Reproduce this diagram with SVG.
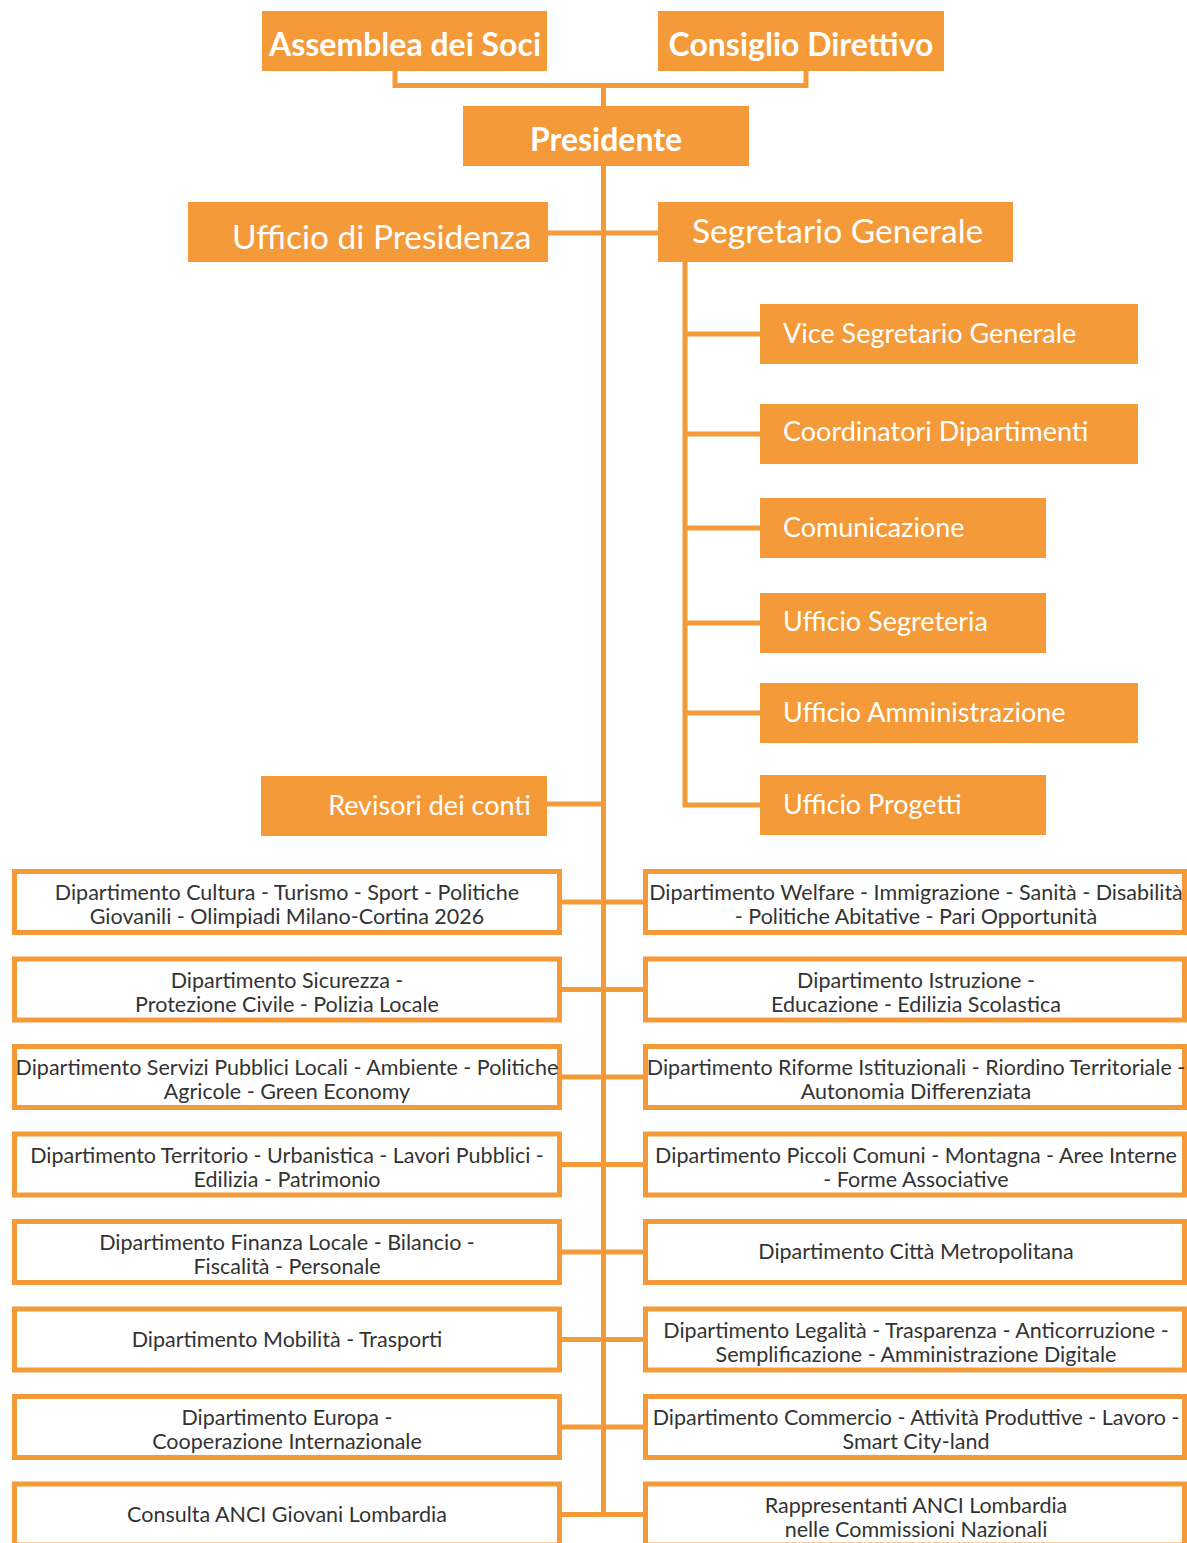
<svg xmlns="http://www.w3.org/2000/svg" width="1187" height="1543" viewBox="0 0 1187 1543">
<style>
.fill{fill:#F59A38}
.box{fill:#ffffff;stroke:#F59A38;stroke-width:5}
.ln{stroke:#F59A38;stroke-width:5;fill:none}
.tb{font-family:Lato,"Noto Sans",sans-serif;font-weight:700;font-size:32px;fill:#ffffff;text-anchor:middle}
.tl{font-family:Lato,"Noto Sans",sans-serif;font-size:33.5px;fill:#ffffff}
.tm{font-family:Lato,"Noto Sans",sans-serif;font-size:27px;fill:#ffffff}
.td{font-family:Lato,"Noto Sans",sans-serif;font-size:21.5px;fill:#333333;text-anchor:middle}
</style>
<rect width="1187" height="1543" fill="#ffffff"/>
<g id="connectors">
<path class="ln" d="M395,71 V85.5 H806 V71"/>
<path class="ln" d="M603.5,85.5 V106"/>
<path class="ln" d="M603.5,166 V1517"/>
<path class="ln" d="M548,233 H658"/>
<path class="ln" d="M685,262 V805 H760"/>
<path class="ln" d="M685,334 H760 M685,434 H760 M685,528 H760 M685,623 H760 M685,713 H760"/>
<path class="ln" d="M547,804 H603.5"/>
<path class="ln" d="M562,902 H643 M562,989.5 H643 M562,1077 H643 M562,1164.5 H643 M562,1252 H643 M562,1339.5 H643 M562,1427 H643 M562,1514.5 H643"/>
</g>
<g id="assemblea"><rect class="fill" x="262" y="11" width="285" height="60"/><text class="tb" x="405" y="56">Assemblea dei Soci</text></g>
<g id="consiglio"><rect class="fill" x="658" y="11" width="286" height="60"/><text class="tb" x="801" y="56">Consiglio Direttivo</text></g>
<g id="presidente"><rect class="fill" x="463" y="106" width="286" height="60"/><text class="tb" x="606" y="151">Presidente</text></g>
<g id="ufficio-presidenza"><rect class="fill" x="188" y="202" width="360" height="60"/><text class="tl" x="232" y="249">Ufficio di Presidenza</text></g>
<g id="segretario"><rect class="fill" x="658" y="202" width="355" height="60"/><text class="tl" x="692" y="243">Segretario Generale</text></g>
<g id="vice"><rect class="fill" x="760" y="304" width="378" height="60"/><text class="tm" x="783" y="343">Vice Segretario Generale</text></g>
<g id="coordinatori"><rect class="fill" x="760" y="404" width="378" height="60"/><text class="tm" x="783" y="441">Coordinatori Dipartimenti</text></g>
<g id="comunicazione"><rect class="fill" x="760" y="498" width="286" height="60"/><text class="tm" x="783" y="537">Comunicazione</text></g>
<g id="segreteria"><rect class="fill" x="760" y="593" width="286" height="60"/><text class="tm" x="783" y="631">Ufficio Segreteria</text></g>
<g id="amministrazione"><rect class="fill" x="760" y="683" width="378" height="60"/><text class="tm" x="783" y="722">Ufficio Amministrazione</text></g>
<g id="progetti"><rect class="fill" x="760" y="775" width="286" height="60"/><text class="tm" x="783" y="814">Ufficio Progetti</text></g>
<g id="revisori"><rect class="fill" x="261" y="776" width="286" height="60"/><text class="tm" x="531" y="815" text-anchor="end">Revisori dei conti</text></g>

<g id="d-cultura"><rect class="box" x="14.5" y="871.5" width="545" height="61"/><text class="td" x="287" y="900">Dipartimento Cultura - Turismo - Sport - Politiche</text><text class="td" x="287" y="924">Giovanili - Olimpiadi Milano-Cortina 2026</text></g>
<g id="d-welfare"><rect class="box" x="645.5" y="871.5" width="539" height="61"/><text class="td" x="916" y="900">Dipartimento Welfare - Immigrazione - Sanità - Disabilità</text><text class="td" x="916" y="924">- Politiche Abitative - Pari Opportunità</text></g>

<g id="d-sicurezza"><rect class="box" x="14.5" y="959" width="545" height="61"/><text class="td" x="287" y="987.5">Dipartimento Sicurezza -</text><text class="td" x="287" y="1011.5">Protezione Civile - Polizia Locale</text></g>
<g id="d-istruzione"><rect class="box" x="645.5" y="959" width="539" height="61"/><text class="td" x="916" y="987.5">Dipartimento Istruzione -</text><text class="td" x="916" y="1011.5">Educazione - Edilizia Scolastica</text></g>

<g id="d-servizi"><rect class="box" x="14.5" y="1046.5" width="545" height="61"/><text class="td" x="287" y="1075">Dipartimento Servizi Pubblici Locali - Ambiente - Politiche</text><text class="td" x="287" y="1099">Agricole - Green Economy</text></g>
<g id="d-riforme"><rect class="box" x="645.5" y="1046.5" width="539" height="61"/><text class="td" x="916" y="1075">Dipartimento Riforme Istituzionali - Riordino Territoriale -</text><text class="td" x="916" y="1099">Autonomia Differenziata</text></g>

<g id="d-territorio"><rect class="box" x="14.5" y="1134" width="545" height="61"/><text class="td" x="287" y="1162.5">Dipartimento Territorio - Urbanistica - Lavori Pubblici -</text><text class="td" x="287" y="1186.5">Edilizia - Patrimonio</text></g>
<g id="d-piccoli"><rect class="box" x="645.5" y="1134" width="539" height="61"/><text class="td" x="916" y="1162.5">Dipartimento Piccoli Comuni - Montagna - Aree Interne</text><text class="td" x="916" y="1186.5">- Forme Associative</text></g>

<g id="d-finanza"><rect class="box" x="14.5" y="1221.5" width="545" height="61"/><text class="td" x="287" y="1250">Dipartimento Finanza Locale - Bilancio -</text><text class="td" x="287" y="1274">Fiscalità - Personale</text></g>
<g id="d-metropolitana"><rect class="box" x="645.5" y="1221.5" width="539" height="61"/><text class="td" x="916" y="1259">Dipartimento Città Metropolitana</text></g>

<g id="d-mobilita"><rect class="box" x="14.5" y="1309" width="545" height="61"/><text class="td" x="287" y="1346.5">Dipartimento Mobilità - Trasporti</text></g>
<g id="d-legalita"><rect class="box" x="645.5" y="1309" width="539" height="61"/><text class="td" x="916" y="1337.5">Dipartimento Legalità - Trasparenza - Anticorruzione -</text><text class="td" x="916" y="1361.5">Semplificazione - Amministrazione Digitale</text></g>

<g id="d-europa"><rect class="box" x="14.5" y="1396.5" width="545" height="61"/><text class="td" x="287" y="1425">Dipartimento Europa -</text><text class="td" x="287" y="1449">Cooperazione Internazionale</text></g>
<g id="d-commercio"><rect class="box" x="645.5" y="1396.5" width="539" height="61"/><text class="td" x="916" y="1425">Dipartimento Commercio - Attività Produttive - Lavoro -</text><text class="td" x="916" y="1449">Smart City-land</text></g>

<g id="consulta"><rect class="box" x="14.5" y="1484" width="545" height="61"/><text class="td" x="287" y="1522">Consulta ANCI Giovani Lombardia</text></g>
<g id="rappresentanti"><rect class="box" x="645.5" y="1484" width="539" height="61"/><text class="td" x="916" y="1513">Rappresentanti ANCI Lombardia</text><text class="td" x="916" y="1537">nelle Commissioni Nazionali</text></g>
</svg>
